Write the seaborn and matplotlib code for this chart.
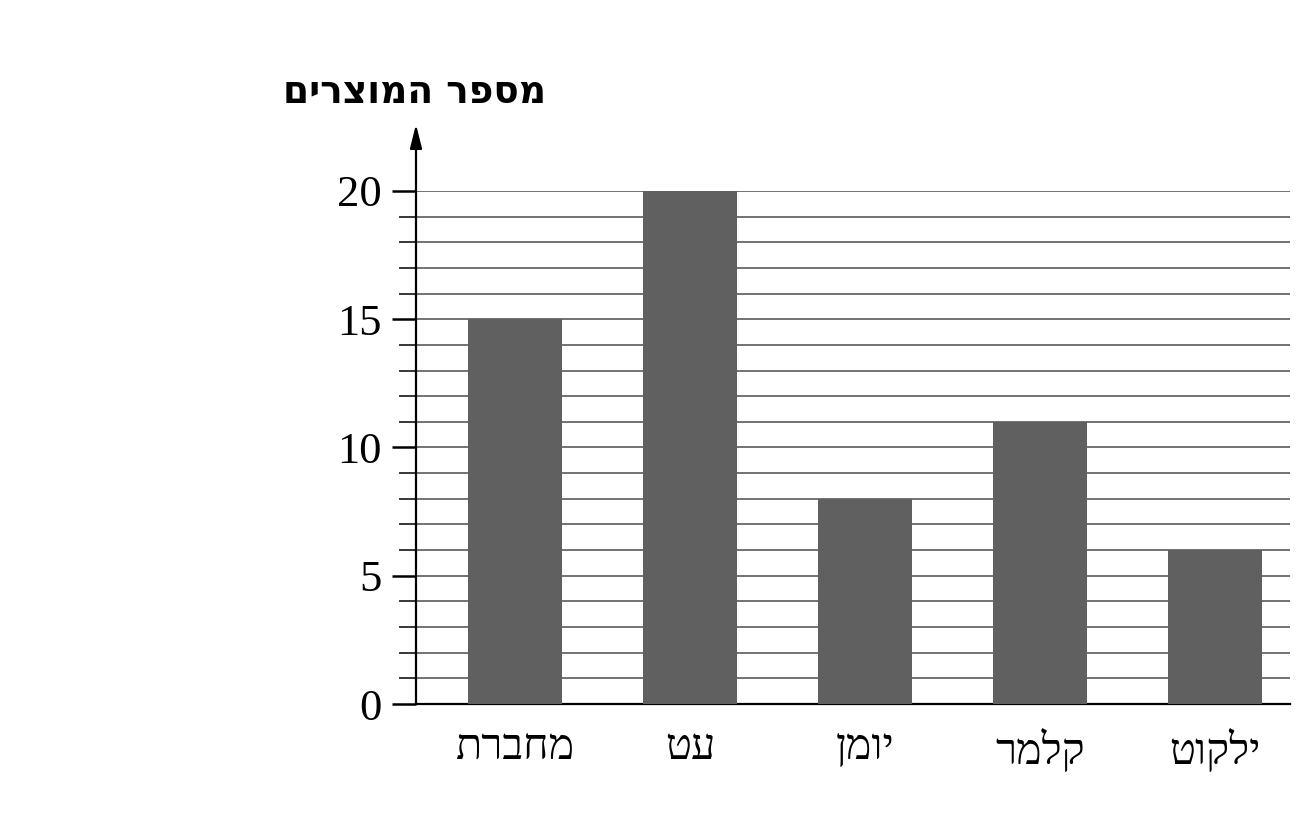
import matplotlib
matplotlib.use("Agg")
import matplotlib.pyplot as plt
from matplotlib.ticker import MultipleLocator
import seaborn as sns
import pandas as pd

# ---- data ----
categories = ["מחברת", "עט", "יומן", "קלמר", "ילקוט"]
values = [15, 20, 8, 11, 6]
y_label = "מספר המוצרים"
y_ticks = [0, 5, 10, 15, 20]


def rtl(s):
    # matplotlib lays glyphs out left-to-right; reverse for visual RTL order
    return s[::-1]


sns.set_theme(style="white")
plt.rcParams["font.family"] = ["Liberation Serif", "DejaVu Serif", "DejaVu Sans"]
plt.rcParams["text.color"] = "black"
plt.rcParams["xtick.color"] = "black"
plt.rcParams["ytick.color"] = "black"

fig = plt.figure(figsize=(13, 8.3), dpi=100)
ax = fig.add_axes([416 / 1300, 1 - 704 / 830, (1290 - 416) / 1300, (704 - 191) / 830])

df = pd.DataFrame({"cat": categories, "val": values})
sns.barplot(data=df, x="cat", y="val", color="#606060", saturation=1,
            width=0.54, ax=ax, zorder=3, edgecolor="none", linewidth=0)

ax.set_xlim(-0.566, 4.43)
ax.set_ylim(0, 20)
ax.set_xlabel("")
ax.set_ylabel("")

ax.yaxis.set_major_locator(MultipleLocator(5))
ax.yaxis.set_minor_locator(MultipleLocator(1))
ax.set_yticks(y_ticks)
ax.set_yticklabels([str(t) for t in y_ticks])
ax.set_xticks(range(len(categories)))
ax.set_xticklabels([rtl(c) for c in categories])

ax.grid(True, which="both", axis="y", color="#5a5a5a", linewidth=1.2)
ax.grid(False, axis="x")
ax.set_axisbelow(True)

ax.tick_params(axis="y", which="major", length=17, width=1.8, color="black",
               labelcolor="black", labelsize=32, pad=8, left=True)
ax.tick_params(axis="y", which="minor", length=12, width=1.1, color="black", left=True)
ax.tick_params(axis="x", length=0, labelsize=31, pad=18, labelcolor="black")

for side in ["top", "right", "left"]:
    ax.spines[side].set_visible(False)
ax.spines["bottom"].set_color("black")
ax.spines["bottom"].set_linewidth(1.6)

# y axis with arrow
ax.annotate("", xy=(0, 1.13), xytext=(0, 0), xycoords="axes fraction",
            textcoords="axes fraction", annotation_clip=False,
            arrowprops=dict(arrowstyle="-|>,head_length=1.2,head_width=0.3",
                            color="black", lw=1.6, shrinkA=0, shrinkB=0))

fig.text(415 / 1300, 1 - 93 / 830, rtl(y_label), ha="center", va="center",
         fontsize=27, fontweight="bold", family=["DejaVu Sans"], color="black")

fig.savefig("out.png", dpi=100)
